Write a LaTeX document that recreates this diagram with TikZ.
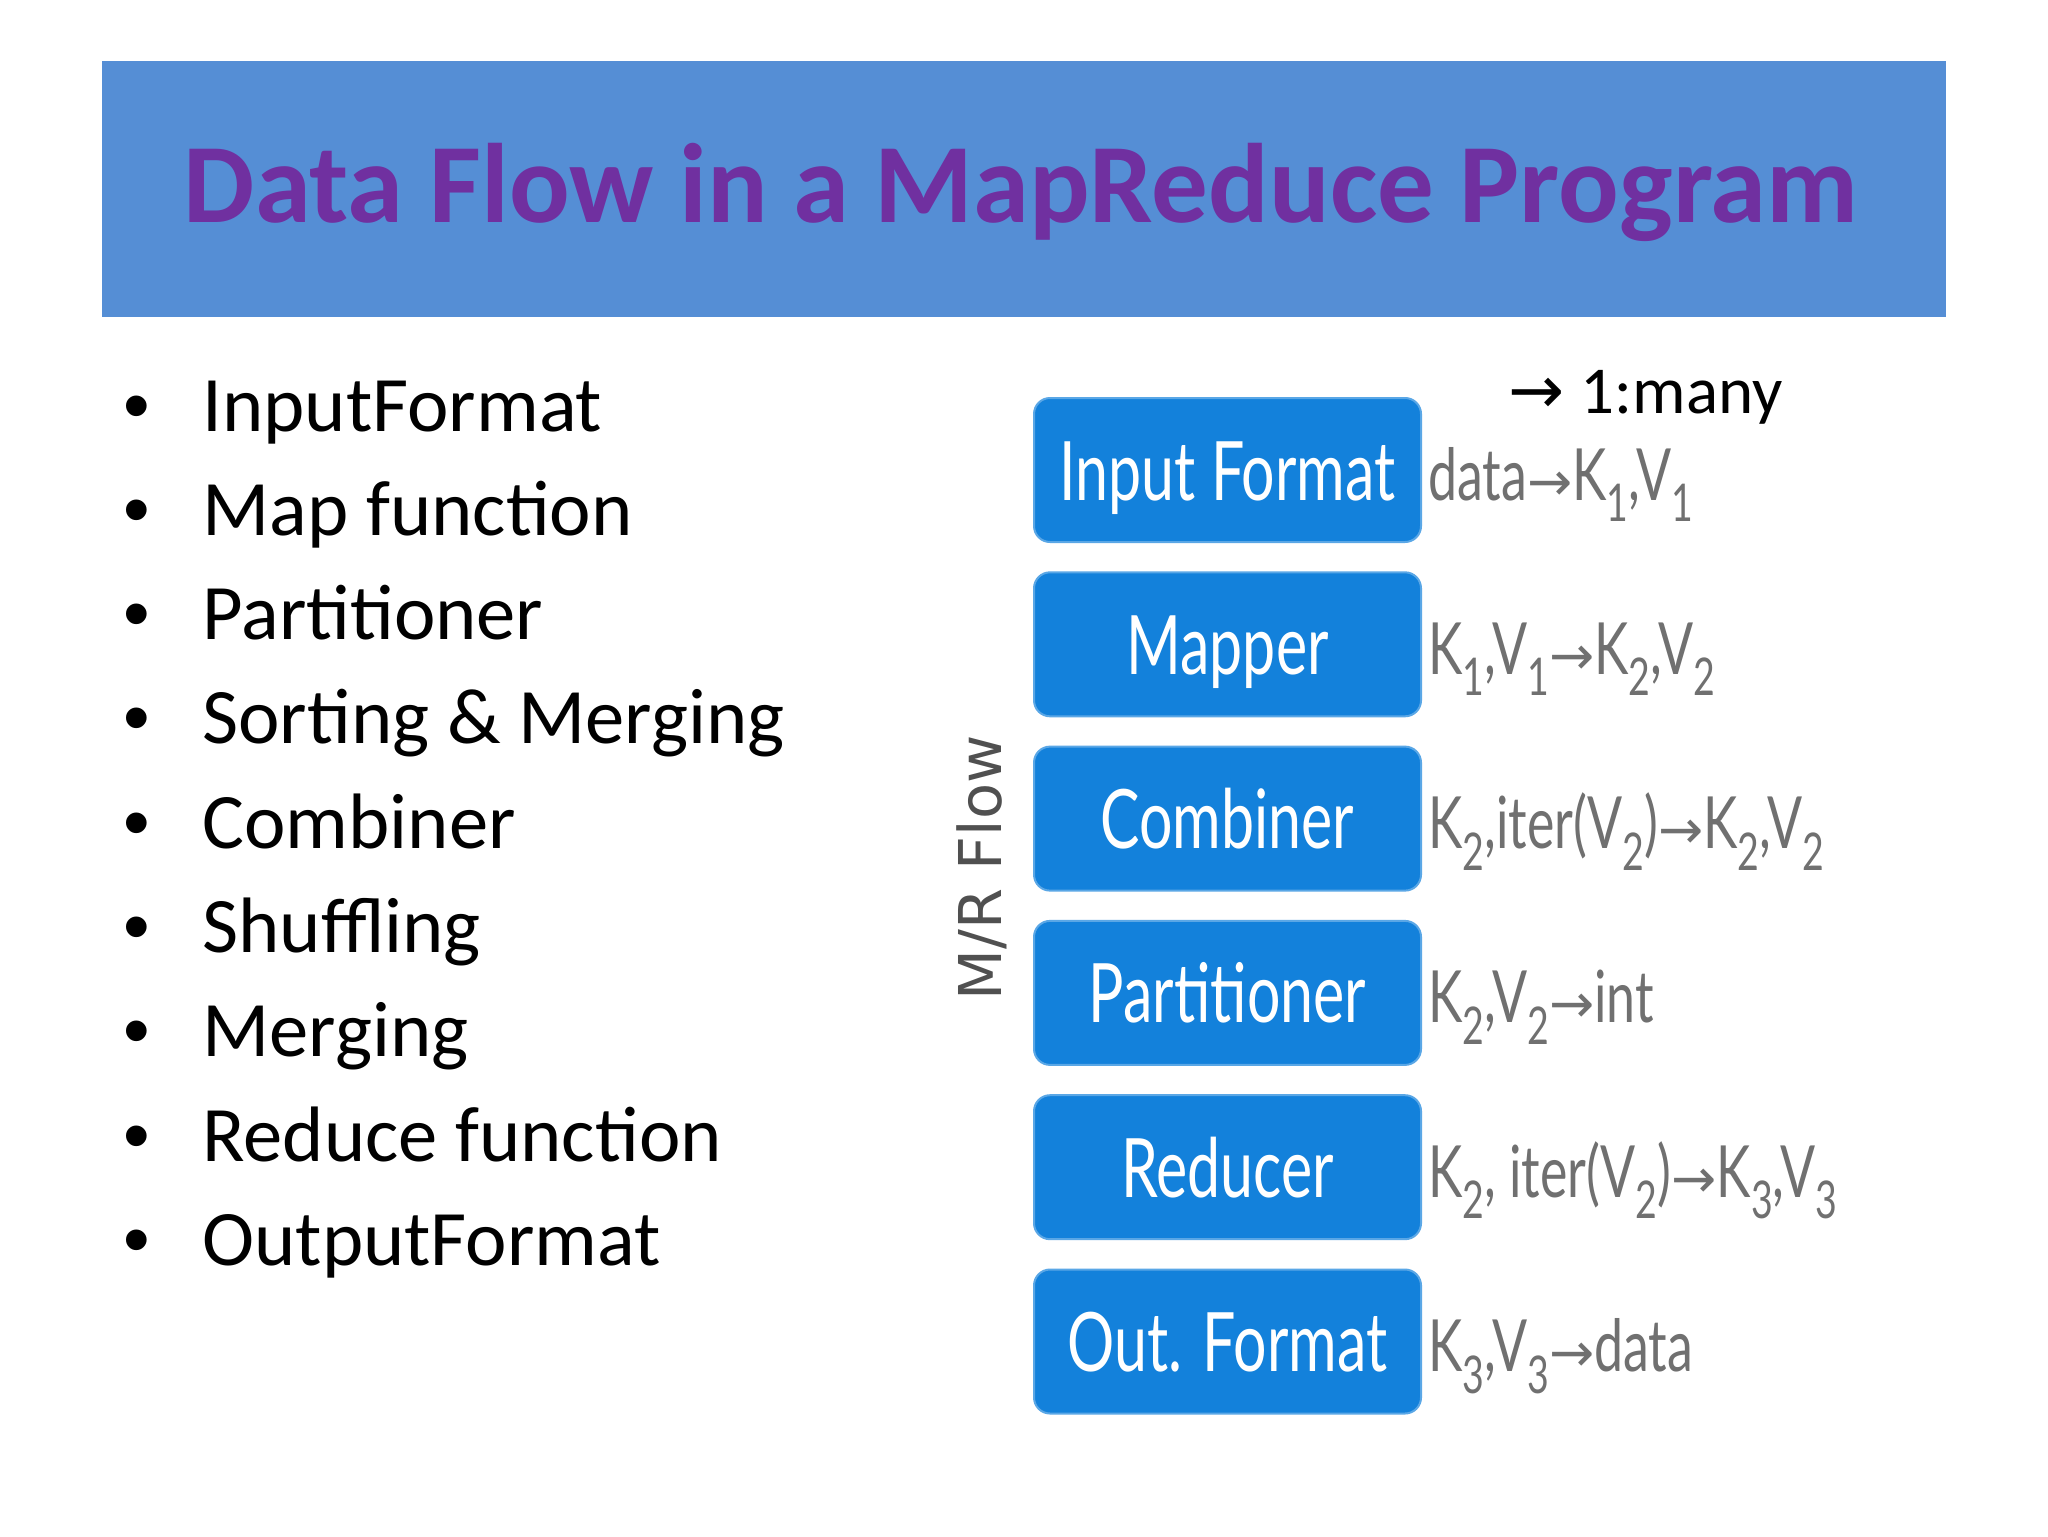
\documentclass[tikz,border=0pt]{standalone}
\usepackage{fontspec}
\setmainfont{Carlito}
\newfontfamily\gill[FakeStretch=0.72]{Lato}
\newfontfamily\dejavu{DejaVu Sans}
\newfontfamily\arial{Liberation Sans}
\definecolor{bandblue}{RGB}{85,142,213}
\definecolor{titlepurple}{RGB}{112,48,160}
\definecolor{boxblue}{RGB}{19,129,219}
\definecolor{labgray}{RGB}{112,112,112}
\definecolor{mrgray}{RGB}{80,80,80}
\newcommand{\sbx}[1]{\raisebox{-0.3em}{\fontsize{26}{26}\selectfont #1}}
\newcommand{\arr}{{\dejavu\fontsize{27}{27}\selectfont →}}
\tikzset{
  band/.style={fill=bandblue, minimum width=922pt, minimum height=128pt, inner sep=0pt, draw=none},
  titletext/.style={font=\fontsize{56.5}{60}\selectfont\bfseries, text=titlepurple, inner sep=0pt},
  bul/.style={font=\fontsize{39.3}{44}\selectfont, text=black, inner sep=0pt},
  dotstyle/.style={font=\arial\fontsize{38}{40}\selectfont, text=black, inner sep=0pt},
  stage/.style={fill=boxblue, draw=boxblue!70!white, line width=1pt, rounded corners=8pt,
    minimum width=193.5pt, minimum height=72pt, inner sep=0pt},
  stagetext/.style={font=\gill\fontsize{41}{44}\selectfont, text=white, inner sep=0pt},
  lab/.style={font=\gill\fontsize{36}{40}\selectfont, text=labgray, inner sep=0pt},
}
\begin{document}
\begin{tikzpicture}[x=0.5pt,y=-0.5pt]
\useasboundingbox (0,0) rectangle (2048,1536);
\fill[white] (0,0) rectangle (2048,1536);
% title band
\node[band] (band) at (1024,189) {};
\node[titletext, anchor=base] (title) at (1021,222) {Data Flow in a MapReduce Program};
% bullets
\foreach \t [count=\i] in {InputFormat, Map function, Partitioner, Sorting \& Merging, Combiner, Shuffling, Merging, Reduce function, OutputFormat}{
  \node[dotstyle, anchor=base] (dot\i) at (137,{431+104.3*(\i-1)}) {•};
  \node[bul, anchor=base west] (item\i) at (202,{431+104.3*(\i-1)}) {\t};
}
% stages
\foreach \n/\t [count=\i] in {sIn/Input Format, sMap/Mapper, sComb/Combiner, sPart/Partitioner, sRed/Reducer, sOut/Out. Format}{
  \node[stage] (\n) at (1227.5,{470+174.3*(\i-1)}) {};
  \node[stagetext, anchor=base] (\n t) at (1227.5,{500+174.3*(\i-1)}) {\t};
}
\node[lab, anchor=base west] (lIn) at (1428,500) {data\arr K\sbx{1},V\sbx{1}};
\node[lab, anchor=base west] (lMap) at (1428,674.3) {K\sbx{1},V\sbx{1}\arr K\sbx{2},V\sbx{2}};
\node[lab, anchor=base west] (lComb) at (1428,848.6) {K\sbx{2},iter(V\sbx{2})\arr K\sbx{2},V\sbx{2}};
\node[lab, anchor=base west] (lPart) at (1428,1022.9) {K\sbx{2},V\sbx{2}\arr int};
\node[lab, anchor=base west] (lRed) at (1428,1197.2) {K\sbx{2}, iter(V\sbx{2})\arr K\sbx{3},V\sbx{3}};
\node[lab, anchor=base west] (lOut) at (1428,1371.5) {K\sbx{3},V\sbx{3}\arr data};
% side label
\node[rotate=90, font=\dejavu\fontsize{29.5}{30}\selectfont, text=mrgray, inner sep=0pt] (mr) at (982,868) {M/R Flow};
% 1:many
\node[anchor=base west, font=\fontsize{33.5}{36}\selectfont, inner sep=0pt] (many) at (1508,413) {{\dejavu →}\hspace{8pt}1:many};
\end{tikzpicture}
\end{document}
